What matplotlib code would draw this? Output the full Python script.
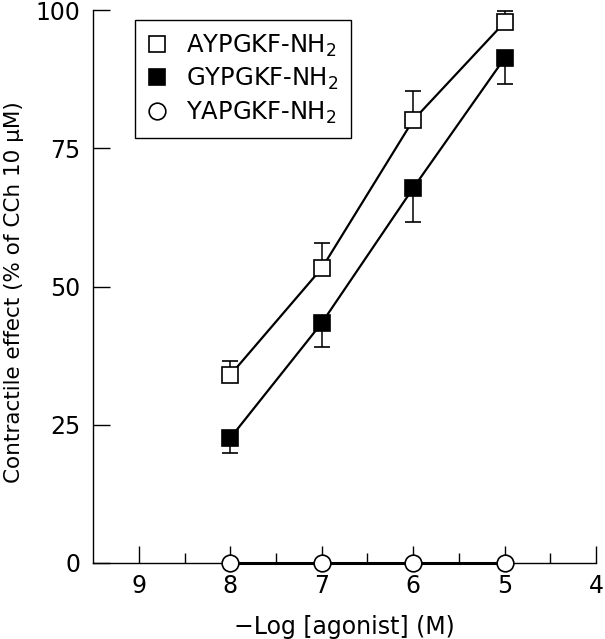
import numpy as np
import matplotlib
matplotlib.use('Agg')
import matplotlib.pyplot as plt
from matplotlib.lines import Line2D

log_conc = [8, 7, 6, 5]

aypgkf = [34.0, 53.3, 80.1, 97.8]
aypgkf_err = [2.5, 4.5, 5.3, 2.0]

gypgkf = [22.6, 43.4, 67.8, 91.3]
gypgkf_err = [2.7, 4.3, 6.1, 4.7]

yapgkf = [0, 0, 0, 0]

labels = ['AYPGKF-NH$_2$', 'GYPGKF-NH$_2$', 'YAPGKF-NH$_2$']

plt.rcParams['font.family'] = ['DejaVu Sans']
plt.rcParams['font.size'] = 17

fig = plt.figure(figsize=(6.05, 6.39), dpi=100)
ax = fig.add_axes([0.154, 0.119, 0.831, 0.865])

zeros = [0] * len(log_conc)
ax.errorbar(log_conc, aypgkf, yerr=[zeros, aypgkf_err], color='black', lw=1.6,
            marker='s', ms=12, mfc='white', mec='black', mew=1.2,
            ecolor='black', elinewidth=1.1, capsize=6, capthick=1.1,
            zorder=3, clip_on=False)
ax.errorbar(log_conc, gypgkf, yerr=[gypgkf_err, zeros], color='black', lw=1.6,
            marker='s', ms=12, mfc='black', mec='black', mew=1.2,
            ecolor='black', elinewidth=1.1, capsize=6, capthick=1.1,
            zorder=3, clip_on=False)
ax.plot(log_conc, yapgkf, color='black', lw=2.2, marker='o', ms=12,
        mfc='white', mec='black', mew=1.2, zorder=4, clip_on=False)

ax.set_xlim(9.5, 4)
ax.set_ylim(0, 100)
ax.set_xticks([9, 8, 7, 6, 5, 4])
ax.set_xticks(np.arange(4.5, 9.5, 1), minor=True)
ax.set_yticks([0, 25, 50, 75, 100])

for s in ('top', 'right'):
    ax.spines[s].set_visible(False)
for s in ('left', 'bottom'):
    ax.spines[s].set_linewidth(1.0)

ax.tick_params(axis='both', which='major', direction='in', length=12.5, width=1.0)
ax.tick_params(axis='y', which='major', pad=9)
ax.tick_params(axis='x', which='major', pad=8)
ax.tick_params(axis='x', which='minor', direction='in', length=7, width=1.0)

ax.set_xlabel('\u2212Log [agonist] (M)', labelpad=12)
ax.set_ylabel('Contractile effect (% of CCh 10 \u00b5M)', fontsize=15.5)
ax.yaxis.set_label_coords(-0.137, 0.49)

handles = [
    Line2D([], [], ls='none', marker='s', ms=12, mfc='white', mec='black', mew=1.2),
    Line2D([], [], ls='none', marker='s', ms=12, mfc='black', mec='black', mew=1.2),
    Line2D([], [], ls='none', marker='o', ms=12, mfc='white', mec='black', mew=1.2),
]
leg = ax.legend(handles, labels, loc='upper left', bbox_to_anchor=(0.083, 0.982),
                borderaxespad=0, frameon=True, fancybox=False, edgecolor='black',
                handlelength=0.8, handletextpad=0.8, borderpad=0.5,
                labelspacing=0.3, fontsize=17.5, framealpha=1)
leg.get_frame().set_linewidth(1.0)

fig.savefig('out.png', dpi=100)
